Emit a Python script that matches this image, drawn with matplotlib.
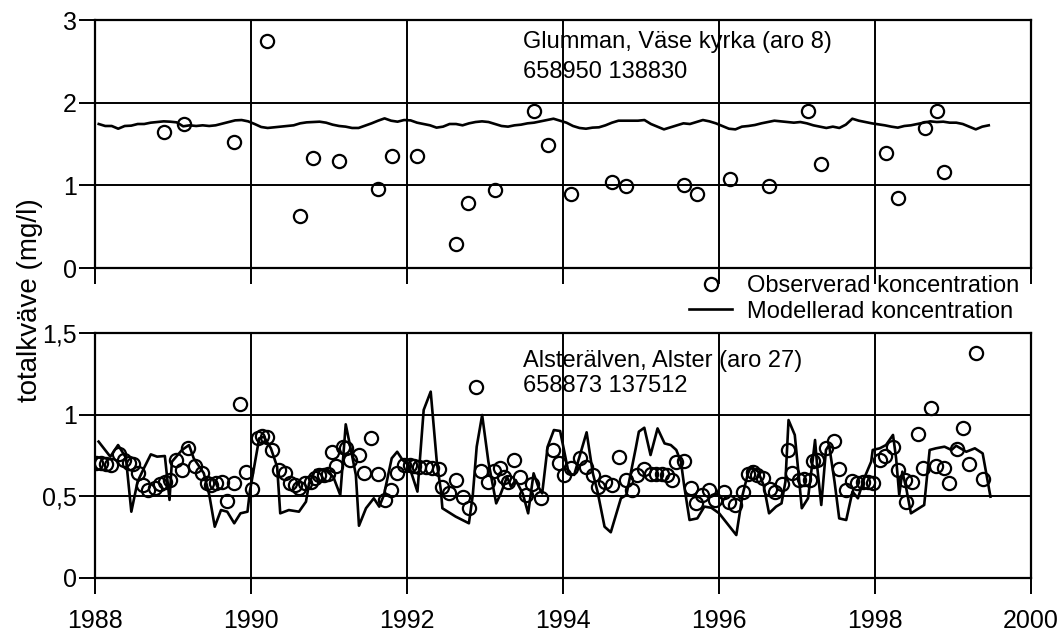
import numpy as np
import matplotlib.pyplot as plt

plt.rcParams['font.family'] = ['Liberation Sans', 'DejaVu Sans']

# --- Glumman, Väse kyrka (aro 8) ---
top_obs_year = [1988.88, 1989.13, 1989.78, 1990.20, 1990.62, 1990.79, 1991.12, 1991.62,
                1991.80, 1992.12, 1992.62, 1992.78, 1993.12, 1993.63, 1993.80, 1994.10,
                1994.63, 1994.80, 1995.55, 1995.72, 1996.14, 1996.64, 1997.14, 1997.31,
                1998.14, 1998.30, 1998.64, 1998.80, 1998.89]
top_obs_val = [1.65, 1.74, 1.53, 2.74, 0.63, 1.33, 1.29, 0.96,
               1.35, 1.35, 0.29, 0.79, 0.94, 1.90, 1.49, 0.89,
               1.04, 0.99, 1.00, 0.90, 1.08, 0.99, 1.90, 1.26,
               1.39, 0.85, 1.69, 1.90, 1.16]

# monthly model values, Jan 1988 - Jun 1999
top_model_val = [1.742, 1.718, 1.718, 1.685, 1.718, 1.722, 1.742, 1.742, 1.758, 1.766, 1.774, 1.770,
                 1.762, 1.714, 1.726, 1.718, 1.726, 1.718, 1.726, 1.746, 1.766, 1.786, 1.790, 1.774,
                 1.742, 1.706, 1.694, 1.702, 1.710, 1.718, 1.726, 1.750, 1.762, 1.766, 1.770, 1.758,
                 1.734, 1.718, 1.710, 1.694, 1.694, 1.722, 1.750, 1.782, 1.810, 1.782, 1.770, 1.790,
                 1.786, 1.758, 1.742, 1.726, 1.698, 1.710, 1.742, 1.742, 1.726, 1.750, 1.766, 1.774,
                 1.766, 1.742, 1.718, 1.710, 1.726, 1.734, 1.750, 1.758, 1.774, 1.790, 1.806, 1.782,
                 1.758, 1.718, 1.694, 1.685, 1.698, 1.702, 1.726, 1.758, 1.782, 1.782, 1.782, 1.782,
                 1.790, 1.742, 1.710, 1.677, 1.702, 1.726, 1.750, 1.742, 1.766, 1.790, 1.774, 1.750,
                 1.718, 1.685, 1.677, 1.710, 1.718, 1.730, 1.750, 1.766, 1.782, 1.774, 1.766, 1.758,
                 1.766, 1.750, 1.726, 1.710, 1.694, 1.710, 1.694, 1.734, 1.806, 1.782, 1.766, 1.750,
                 1.738, 1.726, 1.710, 1.698, 1.718, 1.726, 1.742, 1.758, 1.774, 1.766, 1.770, 1.758,
                 1.758, 1.742, 1.710, 1.677, 1.710, 1.726]
top_model_year = 1988 + (np.arange(len(top_model_val)) + 0.5) / 12

# --- Alsterälven, Alster (aro 27) ---
bot_obs_year = [1988.01, 1988.07, 1988.13, 1988.20, 1988.30, 1988.36, 1988.43, 1988.48, 1988.54, 1988.61,
                1988.68, 1988.76, 1988.83, 1988.89, 1988.96, 1989.03, 1989.11, 1989.19, 1989.28, 1989.37,
                1989.43, 1989.48, 1989.55, 1989.62, 1989.69, 1989.78, 1989.85, 1989.93, 1990.01, 1990.09,
                1990.14, 1990.20, 1990.27, 1990.35, 1990.43, 1990.50, 1990.56, 1990.61, 1990.69, 1990.76,
                1990.81, 1990.87, 1990.93, 1990.98, 1991.03, 1991.09, 1991.17, 1991.21, 1991.27, 1991.38,
                1991.45, 1991.54, 1991.62, 1991.71, 1991.79, 1991.87, 1991.96, 1992.03, 1992.08, 1992.15,
                1992.24, 1992.32, 1992.41, 1992.45, 1992.54, 1992.62, 1992.71, 1992.79, 1992.88, 1992.94,
                1993.04, 1993.11, 1993.19, 1993.24, 1993.29, 1993.37, 1993.45, 1993.52, 1993.60, 1993.71,
                1993.87, 1993.95, 1994.01, 1994.10, 1994.21, 1994.29, 1994.38, 1994.45, 1994.54, 1994.63,
                1994.71, 1994.80, 1994.88, 1994.95, 1995.04, 1995.12, 1995.19, 1995.27, 1995.33, 1995.39,
                1995.45, 1995.55, 1995.64, 1995.70, 1995.78, 1995.87, 1995.95, 1996.06, 1996.13, 1996.20,
                1996.30, 1996.37, 1996.43, 1996.49, 1996.56, 1996.65, 1996.71, 1996.80, 1996.88, 1996.94,
                1997.02, 1997.09, 1997.17, 1997.20, 1997.26, 1997.37, 1997.47, 1997.54, 1997.63, 1997.70,
                1997.77, 1997.84, 1997.91, 1997.97, 1998.06, 1998.13, 1998.23, 1998.29, 1998.38, 1998.40,
                1998.48, 1998.55, 1998.62, 1998.72, 1998.78, 1998.88, 1998.95, 1999.05, 1999.13, 1999.20,
                1999.30, 1999.38]
bot_obs_val = [0.706, 0.702, 0.698, 0.692, 0.757, 0.722, 0.702, 0.696, 0.641, 0.569,
               0.539, 0.553, 0.573, 0.590, 0.600, 0.722, 0.661, 0.794, 0.688, 0.641,
               0.580, 0.570, 0.580, 0.590, 0.470, 0.580, 1.065, 0.651, 0.545, 0.859,
               0.871, 0.865, 0.784, 0.661, 0.641, 0.580, 0.569, 0.549, 0.580, 0.586,
               0.610, 0.631, 0.631, 0.635, 0.769, 0.688, 0.804, 0.794, 0.722, 0.753,
               0.641, 0.859, 0.637, 0.478, 0.539, 0.641, 0.692, 0.692, 0.686, 0.678,
               0.678, 0.671, 0.665, 0.559, 0.522, 0.600, 0.494, 0.427, 1.167, 0.657,
               0.590, 0.657, 0.671, 0.620, 0.590, 0.722, 0.620, 0.508, 0.576, 0.488,
               0.784, 0.702, 0.631, 0.676, 0.737, 0.682, 0.631, 0.559, 0.586, 0.569,
               0.743, 0.600, 0.539, 0.631, 0.667, 0.635, 0.635, 0.635, 0.631, 0.600,
               0.712, 0.716, 0.549, 0.457, 0.508, 0.539, 0.478, 0.529, 0.467, 0.447,
               0.529, 0.635, 0.651, 0.631, 0.614, 0.545, 0.524, 0.573, 0.784, 0.641,
               0.600, 0.606, 0.600, 0.716, 0.722, 0.794, 0.839, 0.667, 0.539, 0.594,
               0.580, 0.586, 0.586, 0.580, 0.722, 0.749, 0.804, 0.661, 0.600, 0.467,
               0.586, 0.880, 0.676, 1.039, 0.688, 0.676, 0.580, 0.790, 0.916, 0.696,
               1.380, 0.606]

bot_model_year = [1988.04, 1988.19, 1988.29, 1988.39, 1988.46, 1988.54, 1988.62, 1988.71, 1988.79, 1988.89,
                  1988.95, 1988.98, 1989.11, 1989.20, 1989.26, 1989.39, 1989.46, 1989.53, 1989.61, 1989.69,
                  1989.78, 1989.86, 1989.95, 1989.98, 1990.10, 1990.16, 1990.25, 1990.33, 1990.37, 1990.48,
                  1990.61, 1990.70, 1990.74, 1990.82, 1990.95, 1991.05, 1991.14, 1991.21, 1991.29, 1991.34,
                  1991.38, 1991.47, 1991.57, 1991.64, 1991.70, 1991.80, 1991.87, 1991.94, 1992.02, 1992.13,
                  1992.21, 1992.30, 1992.38, 1992.43, 1992.45, 1992.62, 1992.79, 1992.84, 1992.89, 1992.96,
                  1993.04, 1993.14, 1993.20, 1993.28, 1993.33, 1993.39, 1993.48, 1993.55, 1993.62, 1993.68,
                  1993.73, 1993.80, 1993.88, 1993.96, 1994.07, 1994.14, 1994.30, 1994.38, 1994.44, 1994.53,
                  1994.61, 1994.74, 1994.81, 1994.93, 1994.97, 1995.04, 1995.12, 1995.21, 1995.30, 1995.38,
                  1995.45, 1995.51, 1995.55, 1995.62, 1995.72, 1995.81, 1995.90, 1996.00, 1996.22, 1996.30,
                  1996.37, 1996.41, 1996.50, 1996.57, 1996.64, 1996.73, 1996.80, 1996.85, 1996.89, 1996.97,
                  1997.02, 1997.06, 1997.14, 1997.20, 1997.23, 1997.26, 1997.31, 1997.37, 1997.41, 1997.48,
                  1997.54, 1997.63, 1997.71, 1997.78, 1997.86, 1997.95, 1997.97, 1998.06, 1998.14, 1998.23,
                  1998.27, 1998.31, 1998.35, 1998.40, 1998.46, 1998.63, 1998.70, 1998.78, 1998.89, 1998.98,
                  1999.04, 1999.17, 1999.28, 1999.38, 1999.48]
bot_model_val = [0.835, 0.743, 0.814, 0.737, 0.406, 0.590, 0.671, 0.757, 0.743, 0.747,
                 0.478, 0.712, 0.784, 0.814, 0.733, 0.641, 0.508, 0.314, 0.416, 0.406,
                 0.335, 0.396, 0.406, 0.529, 0.855, 0.865, 0.794, 0.682, 0.396, 0.416,
                 0.406, 0.467, 0.580, 0.661, 0.661, 0.620, 0.508, 0.941, 0.753, 0.631,
                 0.320, 0.427, 0.488, 0.437, 0.508, 0.733, 0.773, 0.722, 0.690, 0.529,
                 1.029, 1.141, 0.702, 0.539, 0.427, 0.376, 0.335, 0.508, 0.804, 0.998,
                 0.712, 0.457, 0.518, 0.620, 0.559, 0.600, 0.518, 0.396, 0.641, 0.559,
                 0.518, 0.804, 0.906, 0.900, 0.641, 0.631, 0.892, 0.641, 0.529, 0.314,
                 0.280, 0.488, 0.508, 0.794, 0.896, 0.920, 0.753, 0.916, 0.824, 0.814,
                 0.784, 0.712, 0.569, 0.355, 0.365, 0.437, 0.430, 0.396, 0.263, 0.508,
                 0.641, 0.682, 0.651, 0.569, 0.396, 0.437, 0.457, 0.590, 0.967, 0.876,
                 0.631, 0.427, 0.488, 0.722, 0.845, 0.671, 0.447, 0.784, 0.814, 0.590,
                 0.365, 0.355, 0.529, 0.488, 0.610, 0.712, 0.784, 0.794, 0.814, 0.876,
                 0.733, 0.508, 0.651, 0.549, 0.396, 0.447, 0.784, 0.794, 0.804, 0.784,
                 0.810, 0.773, 0.794, 0.763, 0.498]

year_ticks = [1988, 1990, 1992, 1994, 1996, 1998, 2000]
top_yticks = [0, 1, 2, 3]
top_ylabels = ['0', '1', '2', '3']
bot_yticks = [0, 0.5, 1, 1.5]
bot_ylabels = ['0', '0,5', '1', '1,5']

fig = plt.figure(figsize=(10.62, 6.33), dpi=100)
ax1 = fig.add_axes([0.0899, 0.5766, 0.8809, 0.3918])
ax2 = fig.add_axes([0.0899, 0.0869, 0.8809, 0.3870])

obs_style = dict(linestyle='none', marker='o', ms=9.5, mfc='none', mec='black', mew=1.6)

ax1.plot(top_model_year, top_model_val, color='black', lw=1.9)
ax1.plot(top_obs_year, top_obs_val, **obs_style)
model_line, = ax2.plot(bot_model_year, bot_model_val, color='black', lw=1.9)
obs_pts, = ax2.plot(bot_obs_year, bot_obs_val, **obs_style)

for ax, yt, yl, ymax in [(ax1, top_yticks, top_ylabels, 3), (ax2, bot_yticks, bot_ylabels, 1.5)]:
    ax.set_xlim(1988, 2000)
    ax.set_ylim(0, ymax)
    ax.set_xticks(year_ticks)
    ax.set_yticks(yt)
    ax.set_yticklabels(yl)
    ax.grid(True, color='black', lw=1.4)
    ax.set_axisbelow(True)
    for s in ax.spines.values():
        s.set_linewidth(1.6)
    ax.tick_params(direction='out', length=11.5, width=1.4, labelsize=18, colors='black')
    ax.tick_params(axis='y', pad=2)
    ax.tick_params(axis='x', pad=11)

ax1.tick_params(axis='x', labelbottom=False)

ax1.text(1993.49, 2.661, 'Glumman, Väse kyrka (aro 8)', fontsize=17, va='baseline')
ax1.text(1993.49, 2.298, '658950 138830', fontsize=17, va='baseline')
ax2.text(1993.49, 1.292, 'Alsterälven, Alster (aro 27)', fontsize=17, va='baseline')
ax2.text(1993.49, 1.139, '658873 137512', fontsize=17, va='baseline')

fig.legend([obs_pts, model_line], ['Observerad koncentration', 'Modellerad koncentration'],
           loc='upper left', bbox_to_anchor=(0.6488, 0.5655), frameon=False, fontsize=17,
           borderpad=0, borderaxespad=0, handlelength=1.82, handletextpad=0.64,
           labelspacing=0.15, numpoints=1)

fig.text(0.028, 0.526, 'totalkväve (mg/l)', rotation=90, fontsize=20, va='center', ha='center')

plt.savefig('out.png', dpi=100)
